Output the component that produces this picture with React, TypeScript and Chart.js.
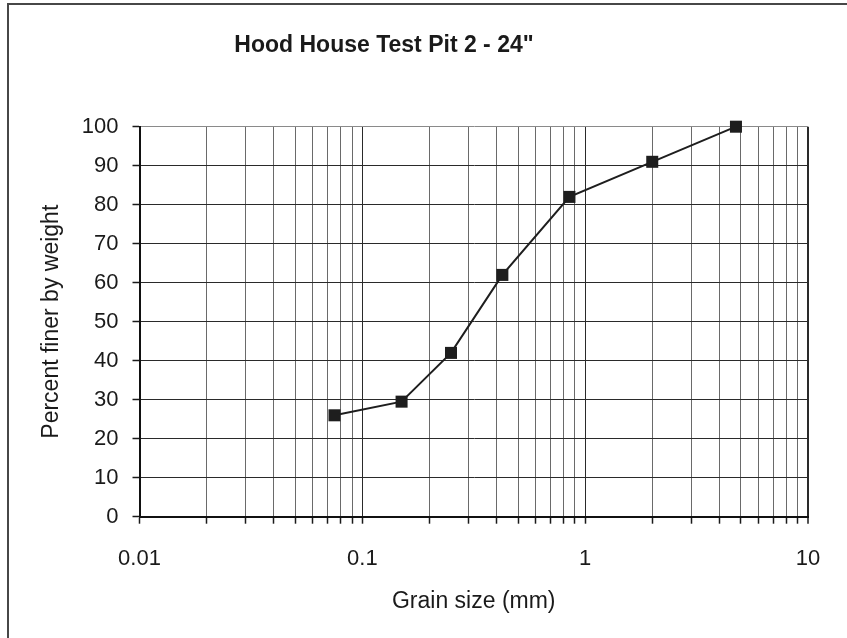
import React, { useEffect, useRef } from "react";
import { Chart, registerables } from "chart.js";

Chart.register(...registerables);

const titleText = 'Hood House Test Pit 2 - 24"';
const xAxisTitle = "Grain size (mm)";
const yAxisTitle = "Percent finer by weight";

// sieve sizes (mm) and percent finer
const grainSize = [0.075, 0.15, 0.25, 0.425, 0.85, 2.0, 4.75];
const percentFiner = [26, 29.5, 42, 62, 82, 91, 100];

const xMajorTicks = [0.01, 0.1, 1, 10];
const xMajorLabels = ["0.01", "0.1", "1", "10"];
const xMinorMultipliers = [2, 3, 4, 5, 6, 7, 8, 9];
const yTicks = [0, 10, 20, 30, 40, 50, 60, 70, 80, 90, 100];

const FONT = "'Liberation Sans', Arial, sans-serif";

function buildXTicks(): number[] {
  const out: number[] = [];
  for (let i = 0; i < xMajorTicks.length; i++) {
    const d = xMajorTicks[i];
    out.push(d);
    if (i < xMajorTicks.length - 1) {
      for (const m of xMinorMultipliers) out.push(Number((d * m).toPrecision(6)));
    }
  }
  return out;
}

function isMajor(v: number): boolean {
  return xMajorTicks.some((m) => Math.abs(m - v) / m < 1e-6);
}

const frame = {
  id: "frame",
  beforeDraw(chart: any) {
    const ctx = chart.ctx;
    ctx.save();
    ctx.fillStyle = "#ffffff";
    ctx.fillRect(0, 0, chart.width, chart.height);
    ctx.fillStyle = "#474747";
    ctx.fillRect(7, 3, 2, chart.height);
    ctx.fillRect(7, 3, chart.width, 2);
    ctx.restore();
  },
  afterDraw(chart: any) {
    const ctx = chart.ctx;
    ctx.save();
    ctx.fillStyle = "#1a1a1a";
    ctx.font = `bold 23px ${FONT}`;
    ctx.textAlign = "center";
    ctx.textBaseline = "middle";
    ctx.fillText(titleText, 384, 46);
    ctx.restore();
  },
};

export default function App() {
  const ref = useRef<HTMLCanvasElement>(null);
  useEffect(() => {
    if (!ref.current) return;
    const xTickVals = buildXTicks();
    const chart = new Chart(ref.current, {
      type: "scatter",
      data: {
        datasets: [
          {
            data: grainSize.map((x, i) => ({ x, y: percentFiner[i] })),
            showLine: true,
            clip: false,
            borderColor: "#1e1e1e",
            borderWidth: 2,
            backgroundColor: "#1e1e1e",
            pointBackgroundColor: "#1e1e1e",
            pointBorderColor: "#1e1e1e",
            pointStyle: "rect",
            pointRadius: 8.5,
            pointBorderWidth: 0,
          },
        ],
      },
      options: {
        animation: false,
        responsive: false,
        devicePixelRatio: 1,
        layout: { padding: { left: 29, top: 126.7, right: 39, bottom: 0 } },
        plugins: {
          legend: { display: false },
          tooltip: { enabled: false },
          title: { display: false },
        },
        scales: {
          x: {
            type: "logarithmic",
            min: 0.01,
            max: 10,
            afterBuildTicks: (s: any) => {
              s.ticks = xTickVals.map((v) => ({ value: v, major: isMajor(v) }));
            },
            afterFit: (s: any) => {
              s.height = 121.3;
            },
            ticks: {
              autoSkip: false,
              maxRotation: 0,
              padding: 22,
              color: "#1a1a1a",
              font: { family: FONT, size: 22 },
              callback: (v: any) => {
                const idx = xMajorTicks.findIndex((m) => Math.abs(m - v) / m < 1e-6);
                return idx >= 0 ? xMajorLabels[idx] : "";
              },
            },
            grid: {
              drawTicks: true,
              tickLength: 7,
              tickColor: "#1a1a1a",
              tickWidth: 1.5,
              color: (c: any) => (c.tick && isMajor(c.tick.value) ? "#2a2a2a" : "#6a6a6a"),
              lineWidth: (c: any) => (c.tick && c.tick.value >= 9.99 ? 2 : 1),
            },
            border: { display: true, color: "#111111", width: 2 },
            title: {
              display: true,
              text: xAxisTitle,
              color: "#1a1a1a",
              font: { family: FONT, size: 23 },
              padding: { top: 0, bottom: 23 },
            },
          },
          y: {
            type: "linear",
            min: 0,
            max: 100,
            afterBuildTicks: (s: any) => {
              s.ticks = yTicks.map((v) => ({ value: v }));
            },
            afterFit: (s: any) => {
              s.width = 110.5;
            },
            ticks: {
              padding: 14,
              color: "#1a1a1a",
              font: { family: FONT, size: 22 },
            },
            grid: {
              drawTicks: true,
              tickLength: 7,
              tickColor: "#1a1a1a",
              tickWidth: 1.5,
              color: (c: any) => (c.tick && c.tick.value === 100 ? "#8a8a8a" : "#2a2a2a"),
              lineWidth: 1,
            },
            border: { display: true, color: "#111111", width: 2 },
            title: {
              display: true,
              text: yAxisTitle,
              color: "#1a1a1a",
              font: { family: FONT, size: 23 },
              padding: { top: 9, bottom: 0 },
            },
          },
        },
      },
      plugins: [frame],
    } as any);
    return () => chart.destroy();
  }, []);
  return (
    <div style={{ position: "absolute", left: 0, top: 0, width: 847, height: 638 }}>
      <canvas ref={ref} width={847} height={638} style={{ display: "block", width: 847, height: 638 }} />
    </div>
  );
}
